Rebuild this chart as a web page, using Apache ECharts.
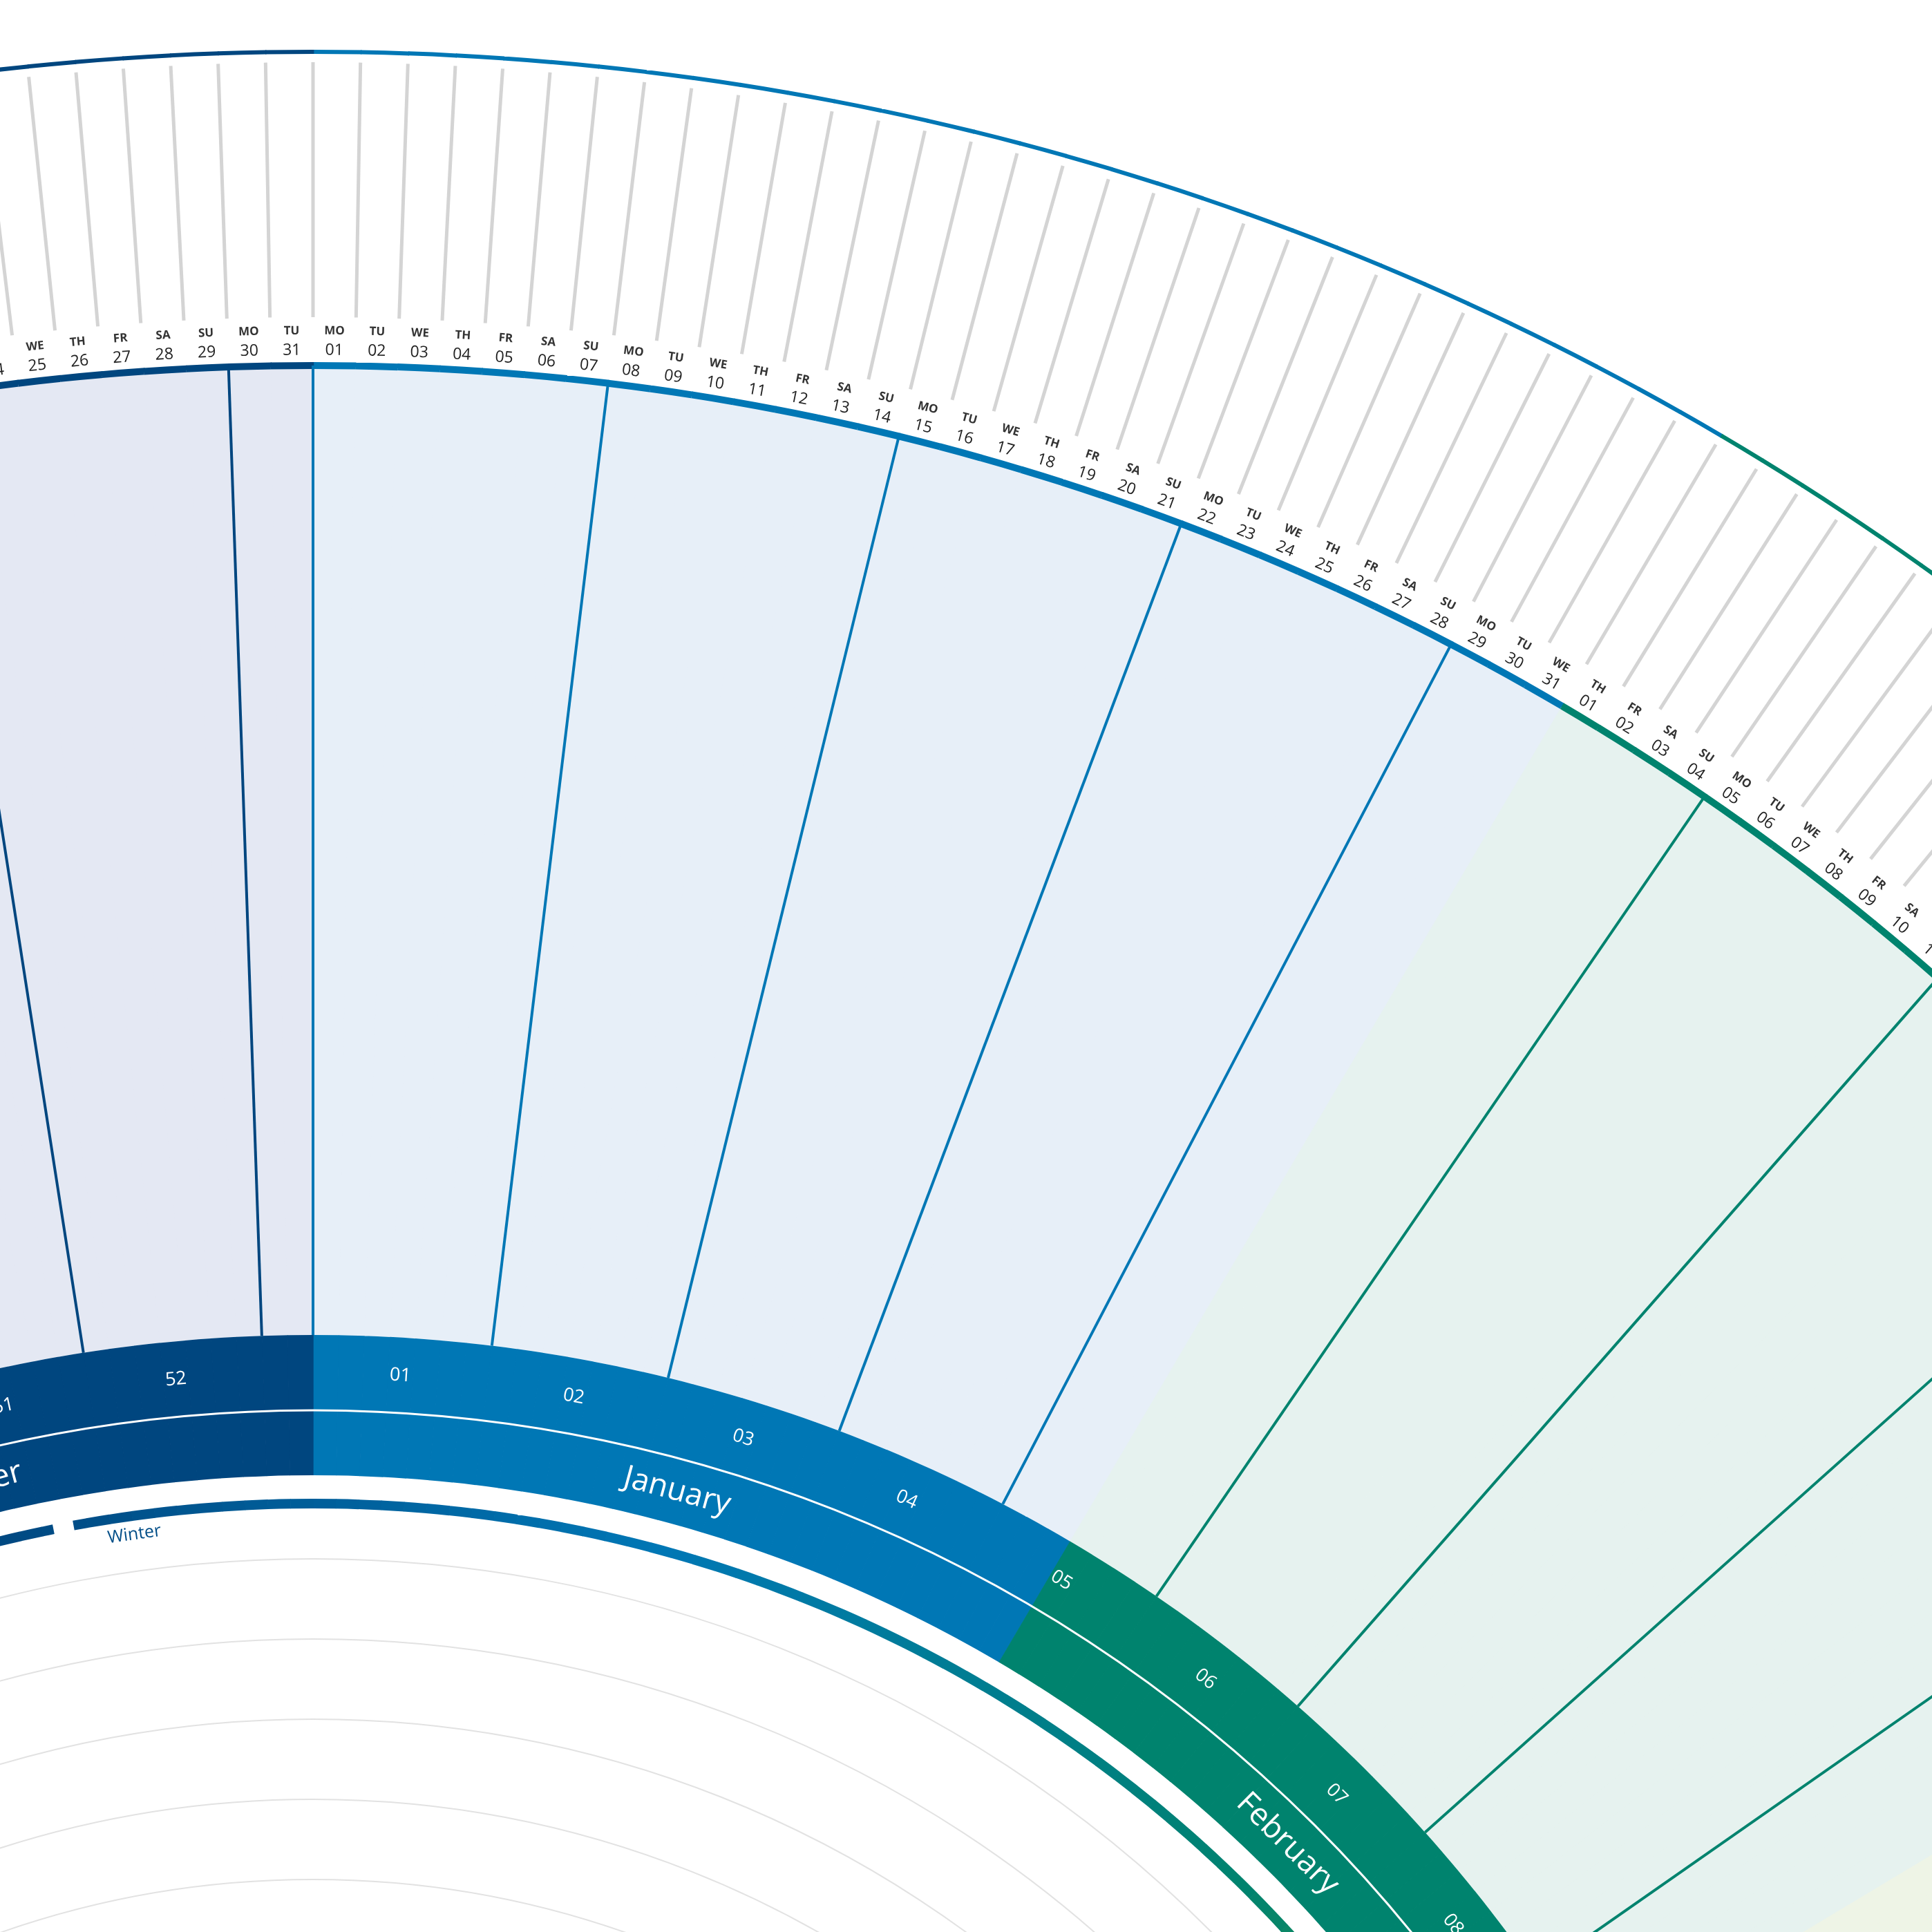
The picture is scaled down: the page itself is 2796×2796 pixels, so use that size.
<!DOCTYPE html>
<html><head><meta charset="utf-8">
<script src="https://cdn.jsdelivr.net/npm/echarts@6/dist/echarts.min.js"></script>
<style>html,body{margin:0;padding:0;background:#fff}#c{width:2796px;height:2796px}</style>
</head><body><div id="c"></div>
<script>
// ---- data ----
const YEAR_DAYS = 366;
const monthNames = ['January','February','March','April','May','June','July','August','September','October','November','December'];
const monthLengths = [31,29,31,30,31,30,31,31,30,31,30,31];
const monthColors = ['#0077b5','#00836e','#6aa62a','#9bb51e','#c8a41a','#e08a16','#d9582a','#c43c3c','#a13a6e','#6b3f8c','#45478f','#00467f'];
const monthFills  = ['#e7eff8','#e6f2ef','#eef4e6','#f3f6e2','#f8f3e2','#fbefe2','#f9e8e3','#f6e4e4','#f1e4eb','#ebe6f0','#e7e7f1','#e4e8f3'];
const dayNames = ['MO','TU','WE','TH','FR','SA','SU']; // Jan 1 is a Monday
const weekNumbers = Array.from({length:52},(_,i)=>i+1);
const seasonNames = ['Spring','Summer','Autumn','Winter'];
const seasonStarts = [79,171,265,355]; // day index
// ---- helpers ----
const monthStart = []; {let s=0; monthLengths.forEach(l=>{monthStart.push(s); s+=l;});}
function monthOf(d){ d=((Math.floor(d)%YEAR_DAYS)+YEAR_DAYS)%YEAR_DAYS; let m=0; while(m<11 && monthStart[m+1]<=d) m++; return m; }
function hex(c){return [1,3,5].map(i=>parseInt(c.substr(i,2),16));}
function mix(a,b,t){const A=hex(a),B=hex(b);return 'rgb('+A.map((v,i)=>Math.round(v+(B[i]-v)*t)).join(',')+')';}
function gradColor(d){ // interpolate between month centers
  d=((d%YEAR_DAYS)+YEAR_DAYS)%YEAR_DAYS;
  const centers=monthStart.map((s,i)=>s+monthLengths[i]/2);
  for(let i=0;i<12;i++){const c0=centers[i], c1=i<11?centers[i+1]:centers[0]+YEAR_DAYS; let dd=d<centers[0]?d+YEAR_DAYS:d;
    if(dd>=c0&&dd<c1) return mix(monthColors[i],monthColors[(i+1)%12],(dd-c0)/(c1-c0));}
  return monthColors[0];
}
const R = {outer:4016, tickTop:4001, tickBot:3632, dayName:3612, dayNum:3584, dayRing:3562,
  fillOut:3560, weekOut:2159, weekIn:2050, weekLbl:2104, monthIn:1956, monthLbl:2003, season:1915, seasonLbl:1888};
const grid = [1835,1719,1603,1487,1371,1255,1139,1023,907,791,675,559,443];

let center=null;
function ang(api,d){ const c=api.coord([0,0]); const p=api.coord([1000,d]); return Math.atan2(p[1]-c[1],p[0]-c[0]); }
function sector(api,r0,r,d0,d1,fill){
  const c=api.coord([0,0]);
  return {type:'sector',shape:{cx:c[0],cy:c[1],r0:r0,r:r,startAngle:ang(api,d0),endAngle:ang(api,d1)+(d1-d0>=YEAR_DAYS?0:0),clockwise:true},style:{fill:fill}};
}
function radial(api,d,r0,r1,color,w){
  const a=api.coord([r0,d]), b=api.coord([r1,d]);
  return {type:'line',shape:{x1:a[0],y1:a[1],x2:b[0],y2:b[1]},style:{stroke:color,lineWidth:w}};
}
function label(api,d,r,text,font,color,weight){
  const p=api.coord([r,d]); const th=d/YEAR_DAYS*Math.PI*2;
  return {type:'text',x:p[0],y:p[1],rotation:-th,style:{text:text,fill:color,font:(weight||'normal')+' '+font+'px "Open Sans"',align:'center',verticalAlign:'middle'}};
}
const days = Array.from({length:YEAR_DAYS},(_,i)=>i);
const option = {
  animation:false,
  polar:{center:[453,4091],radius:4016},
  angleAxis:{type:'value',min:0,max:YEAR_DAYS,startAngle:90,clockwise:true,show:false},
  radiusAxis:{type:'value',min:0,max:4016,show:false},
  series:[
    {type:'custom',coordinateSystem:'polar',data:days,renderItem:(p,api)=>{
      const d=api.value(0), m=monthOf(d), ch=[];
      ch.push(sector(api,R.weekOut,R.fillOut,d,d+1.02,monthFills[m]));
      ch.push(sector(api,R.weekIn,R.weekOut,d,d+1.02,monthColors[m]));
      ch.push(sector(api,R.monthIn,R.weekIn,d,d+1.02,monthColors[m]));
      ch.push(sector(api,R.dayRing-5,R.dayRing+5,d,d+1.02,monthColors[m]));
      ch.push(sector(api,R.outer-3,R.outer+3,d,d+1.02,monthColors[m]));
      ch.push(radial(api,d,R.tickBot,R.tickTop,'#d4d4d4',5));
      const date=d-monthStart[m]+1;
      ch.push(label(api,d+0.5,R.dayName,dayNames[d%7],17,'#333','bold'));
      ch.push(label(api,d+0.5,R.dayNum,String(date).padStart(2,'0'),23,'#222'));
      return {type:'group',children:ch};
    }},
    {type:'custom',coordinateSystem:'polar',data:days,renderItem:(p,api)=>{
      const d=api.value(0);
      // season ring, gap around each season start
      let inGap=false; seasonStarts.forEach(s=>{if(d===s-1) inGap=true;});
      const ch=[];
      if(!inGap) ch.push(sector(api,R.season-7,R.season+7,d,d+1.02,gradColor(d+0.5)));
      else ch.push(sector(api,R.season-7,R.season+7,d,d+0.5,gradColor(d)));
      const si=seasonStarts.indexOf(d);
      if(si>=0){ ch.push(sector(api,R.season-7,R.season+7,d+0.4,d+1.02,gradColor(d+0.5)));
        ch.shift(); }
      return {type:'group',children:ch};
    }},
    {type:'custom',coordinateSystem:'polar',data:grid,renderItem:(p,api)=>{
      const c=api.coord([0,0]);
      return {type:'circle',shape:{cx:c[0],cy:c[1],r:api.value(0)},style:{fill:null,stroke:'#e2e2e2',lineWidth:2}};
    }},
    {type:'custom',coordinateSystem:'polar',data:Array.from({length:53},(_,i)=>i*7),renderItem:(p,api)=>{
      const d=api.value(0);
      return radial(api,d,R.weekOut,R.dayRing,monthColors[monthOf(d)],4);
    }},
    {type:'custom',coordinateSystem:'polar',data:weekNumbers,renderItem:(p,api)=>{
      const w=api.value(0);
      return label(api,(w-1)*7+3.5,R.weekLbl,String(w).padStart(2,'0'),27,'#fff');
    }},
    {type:'custom',coordinateSystem:'polar',data:monthNames.map((n,i)=>i),renderItem:(p,api)=>{
      const i=api.value(0), c=api.coord([0,0]);
      return {type:'group',children:[
        label(api,monthStart[i]+monthLengths[i]/2,R.monthLbl,monthNames[i],45,'#fff')]};
    }},
    {type:'custom',coordinateSystem:'polar',data:[0],renderItem:(p,api)=>{
      const c=api.coord([0,0]);
      return {type:'circle',shape:{cx:c[0],cy:c[1],r:R.weekIn},style:{fill:null,stroke:'#fff',lineWidth:3}};
    }},
    {type:'custom',coordinateSystem:'polar',data:seasonNames.map((n,i)=>i),renderItem:(p,api)=>{
      const i=api.value(0);
      const pp=label(api,seasonStarts[i]+3.0,R.seasonLbl,seasonNames[i],25,gradColor(seasonStarts[i]));
      return pp;
    }}
  ]
};
echarts.init(document.getElementById('c')).setOption(option);
</script></body></html>
